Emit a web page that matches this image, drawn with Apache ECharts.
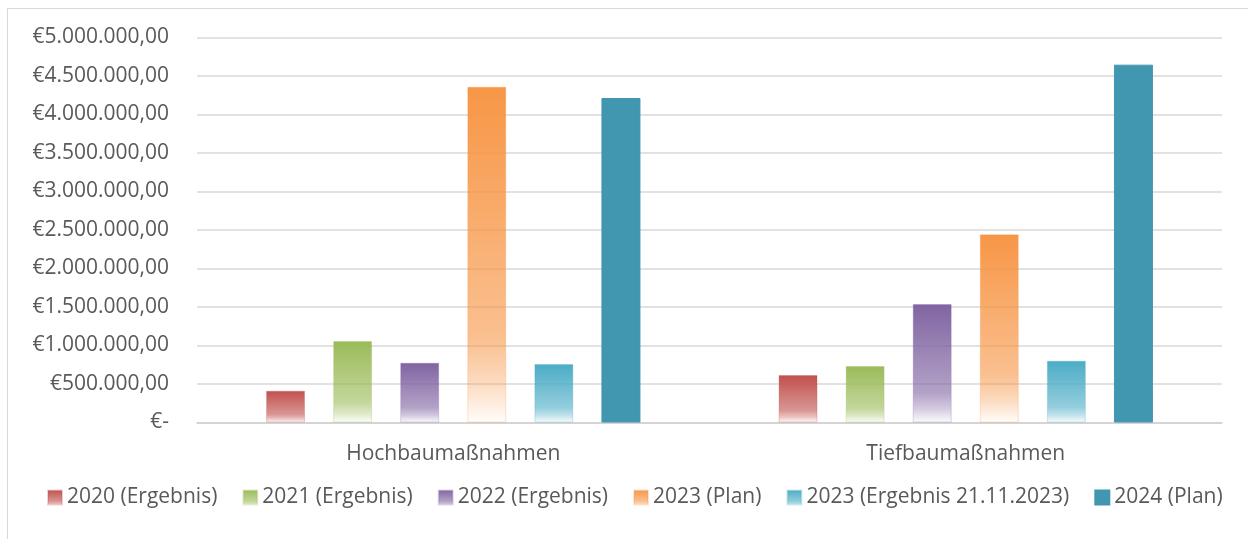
<!DOCTYPE html>
<html>
<head>
<meta charset="utf-8">
<script src="https://cdn.jsdelivr.net/npm/echarts@6/dist/echarts.min.js"></script>
<style>
html,body{margin:0;padding:0;background:#fff;}
#chart{width:1248px;height:539px;}
</style>
</head>
<body>
<div id="chart"></div>
<script>
// Kategorien und Werte
var categories = ["Hochbaumaßnahmen", "Tiefbaumaßnahmen"];
var seriesNames = ["2020 (Ergebnis)", "2021 (Ergebnis)", "2022 (Ergebnis)", "2023 (Plan)", "2023 (Ergebnis 21.11.2023)", "2024 (Plan)"];
var v2020 = [413000, 617000];
var v2021 = [1058000, 734000];
var v2022 = [777000, 1539000];
var v2023Plan = [4361000, 2444000];
var v2023Erg = [760000, 803000];
var v2024Plan = [4214000, 4647000];
var yTicks = [0, 500000, 1000000, 1500000, 2000000, 2500000, 3000000, 3500000, 4000000, 4500000, 5000000];

var colors = ["#C0504D", "#9BBB59", "#8064A2", "#F79646", "#4BACC6", "#4197B0"];
var allValues = [v2020, v2021, v2022, v2023Plan, v2023Erg, v2024Plan];

function hexA(hex, a) {
    var r = parseInt(hex.substr(1, 2), 16), g = parseInt(hex.substr(3, 2), 16), b = parseInt(hex.substr(5, 2), 16);
    return "rgba(" + r + "," + g + "," + b + "," + a + ")";
}
//Verlauf nach weiss wie in Excel
function fade(hex) {
    return new echarts.graphic.LinearGradient(0, 0, 0, 1, [
        {offset: 0, color: hex},
        {offset: 0.75, color: hexA(hex, 0.6)},
        {offset: 0.88, color: hexA(hex, 0.35)},
        {offset: 1, color: hexA(hex, 0.02)}
    ]);
}

function euro(v) {
    if (v === 0) return "€-";
    var s = String(Math.round(v)).replace(/\B(?=(\d{3})+(?!\d))/g, ".");
    return "€" + s + ",00";
}

var series = [];
for (var i = 0; i < seriesNames.length; i++) {
    series.push({
        name: seriesNames[i],
        type: "bar",
        data: allValues[i],
        barWidth: 39,
        barGap: "72%",
        itemStyle: {
            color: i === 5 ? colors[i] : fade(colors[i]),
            borderColor: i === 5 ? colors[i] : hexA(colors[i], 0.25),
            borderWidth: 1
        }
    });
}

var myChart = echarts.init(document.getElementById("chart"));
var option = {
    animation: false,
    backgroundColor: "#fff",
    textStyle: {fontFamily: "Open Sans", color: "#595959"},
    graphic: [{
        type: "rect",
        shape: {x: 7.5, y: 8.5, width: 1260, height: 560},
        style: {fill: "none", stroke: "#d9d9d9", lineWidth: 1}
    }],
    grid: {left: 197, right: 26, top: 37.5, bottom: 116.5},
    legend: {
        bottom: 26,
        left: 42,
        itemWidth: 14,
        itemHeight: 14,
        itemGap: 25,
        icon: "rect",
        textStyle: {fontSize: 21, color: "#595959", fontFamily: "Open Sans"},
        data: seriesNames
    },
    xAxis: {
        type: "category",
        data: categories,
        axisTick: {show: false},
        axisLine: {lineStyle: {color: "#d0d0d0", width: 1.5}},
        axisLabel: {fontSize: 21, color: "#595959", margin: 21}
    },
    yAxis: {
        type: "value",
        min: 0,
        max: 5000000,
        interval: 500000,
        axisLine: {show: false},
        axisTick: {show: false},
        splitLine: {lineStyle: {color: "#d9d9d9", width: 1.5}},
        axisLabel: {
            fontSize: 21,
            color: "#595959",
            margin: 28,
            formatter: function (v) { return yTicks.indexOf(v) >= 0 ? euro(v) : ""; }
        }
    },
    series: series
};
myChart.setOption(option);
</script>
</body>
</html>
